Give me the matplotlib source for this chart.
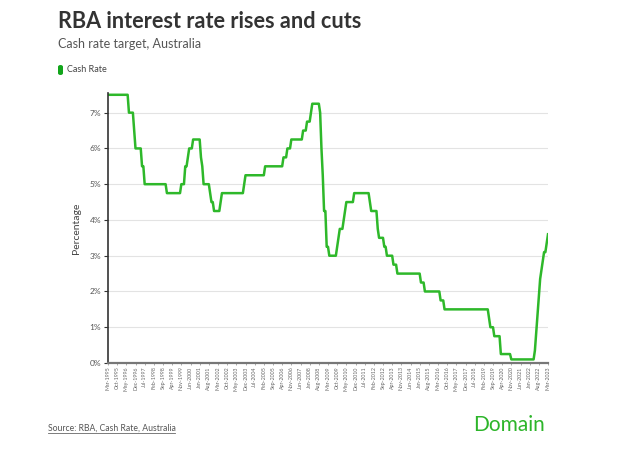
import matplotlib
matplotlib.use("Agg")
import matplotlib.pyplot as plt
import matplotlib.patches as mpatches
import numpy as np
import pandas as pd

plt.rcParams['font.family'] = ['Lato', 'DejaVu Sans']

# Step changes in the cash rate target (month of change, new level %)
change_months = [
    "1995-03", "1996-07", "1996-11", "1996-12", "1997-05", "1997-07", "1998-12",
    "1999-11", "2000-02", "2000-04", "2000-05", "2000-08", "2001-02", "2001-03",
    "2001-04", "2001-09", "2001-10", "2001-12", "2002-05", "2002-06", "2003-11",
    "2003-12", "2005-03", "2006-05", "2006-08", "2006-11", "2007-08", "2007-11",
    "2008-02", "2008-03", "2008-09", "2008-10", "2008-11", "2008-12", "2009-02",
    "2009-04", "2009-10", "2009-11", "2009-12", "2010-03", "2010-04", "2010-05",
    "2010-11", "2011-11", "2011-12", "2012-05", "2012-06", "2012-10", "2012-12",
    "2013-05", "2013-08", "2015-02", "2015-05", "2016-05", "2016-08", "2019-06",
    "2019-07", "2019-10", "2020-03", "2020-11", "2022-05", "2022-06", "2022-07",
    "2022-08", "2022-09", "2022-10", "2022-11", "2022-12", "2023-02", "2023-03",
]
change_levels = [
    7.5, 7.0, 6.5, 6.0, 5.5, 5.0, 4.75,
    5.0, 5.5, 5.75, 6.0, 6.25, 5.75, 5.5,
    5.0, 4.75, 4.5, 4.25, 4.5, 4.75, 5.0,
    5.25, 5.5, 5.75, 6.0, 6.25, 6.5, 6.75,
    7.0, 7.25, 7.0, 6.0, 5.25, 4.25, 3.25,
    3.0, 3.25, 3.5, 3.75, 4.0, 4.25, 4.5,
    4.75, 4.5, 4.25, 3.75, 3.5, 3.25, 3.0,
    2.75, 2.5, 2.25, 2.0, 1.75, 1.5, 1.25,
    1.0, 0.75, 0.25, 0.1, 0.35, 0.85, 1.35,
    1.85, 2.35, 2.6, 2.85, 3.1, 3.35, 3.6,
]
start_month = "1995-03"
end_month = "2023-03"
y_ticks = [0, 1, 2, 3, 4, 5, 6, 7]

steps = pd.Series(change_levels, index=pd.PeriodIndex(change_months, freq="M"))
months = pd.period_range(start_month, end_month, freq="M")
monthly = steps.reindex(months).ffill()

x = np.arange(len(months))
tick_pos = x[::7]
tick_labels = [m.strftime("%b-%Y") for m in months[::7]]

W, H = 628, 450
fig = plt.figure(figsize=(W / 100, H / 100), dpi=100)
ax = fig.add_axes([108 / W, 1 - 363 / H, 440 / W, 270 / H])

green = "#2eb82a"
ax.plot(x, monthly.values, color=green, lw=1.8, solid_joinstyle="round")

ax.set_xlim(x[0], x[-1])
ax.set_ylim(0, 7.55)
ax.set_yticks(y_ticks)
ax.set_yticklabels([f"{v}%" for v in y_ticks], fontsize=6, color="#555555")
ax.set_xticks(tick_pos)
ax.set_xticklabels(tick_labels, rotation=90, fontsize=3.8, color="#666666")
ax.tick_params(axis="y", length=3, width=0.8, color="#333333", pad=2)
ax.tick_params(axis="x", length=1.5, width=0.5, color="#888888", pad=1)
ax.grid(axis="y", color="#e3e3e3", lw=0.8)
ax.set_axisbelow(True)
for s in ["top", "right"]:
    ax.spines[s].set_visible(False)
ax.spines["left"].set_color("#333333")
ax.spines["left"].set_linewidth(1.2)
ax.spines["bottom"].set_color("#777777")
ax.spines["bottom"].set_linewidth(1.6)
ax.set_ylabel("Percentage", fontsize=7.5, color="#444444", labelpad=6)

fig.text(58 / W, 1 - 22 / H, "RBA interest rate rises and cuts", fontsize=15.6,
         fontweight="bold", color="#333333", va="center", ha="left")
fig.text(58 / W, 1 - 44 / H, "Cash rate target, Australia", fontsize=9,
         color="#555555", va="center", ha="left")
fig.patches.append(mpatches.FancyBboxPatch((58 / W, 1 - 75 / H), 5 / W, 10 / H,
                   boxstyle="round,pad=0,rounding_size=0.004", transform=fig.transFigure,
                   facecolor="#12a51b", edgecolor="none"))
fig.text(67 / W, 1 - 70 / H, "Cash Rate", fontsize=6.5, color="#444444",
         va="center", ha="left")

fig.text(48 / W, 1 - 428 / H, "Source: RBA, Cash Rate, Australia", fontsize=6.2,
         color="#555555", va="center", ha="left")
fig.add_artist(plt.Line2D([48 / W, 175 / W], [1 - 433 / H, 1 - 433 / H],
               transform=fig.transFigure, color="#666666", lw=0.6))
fig.text(473 / W, 1 - 425 / H, "Domain", fontsize=15, color="#2db52a",
         va="center", ha="left")

fig.savefig("out.png", dpi=100)
